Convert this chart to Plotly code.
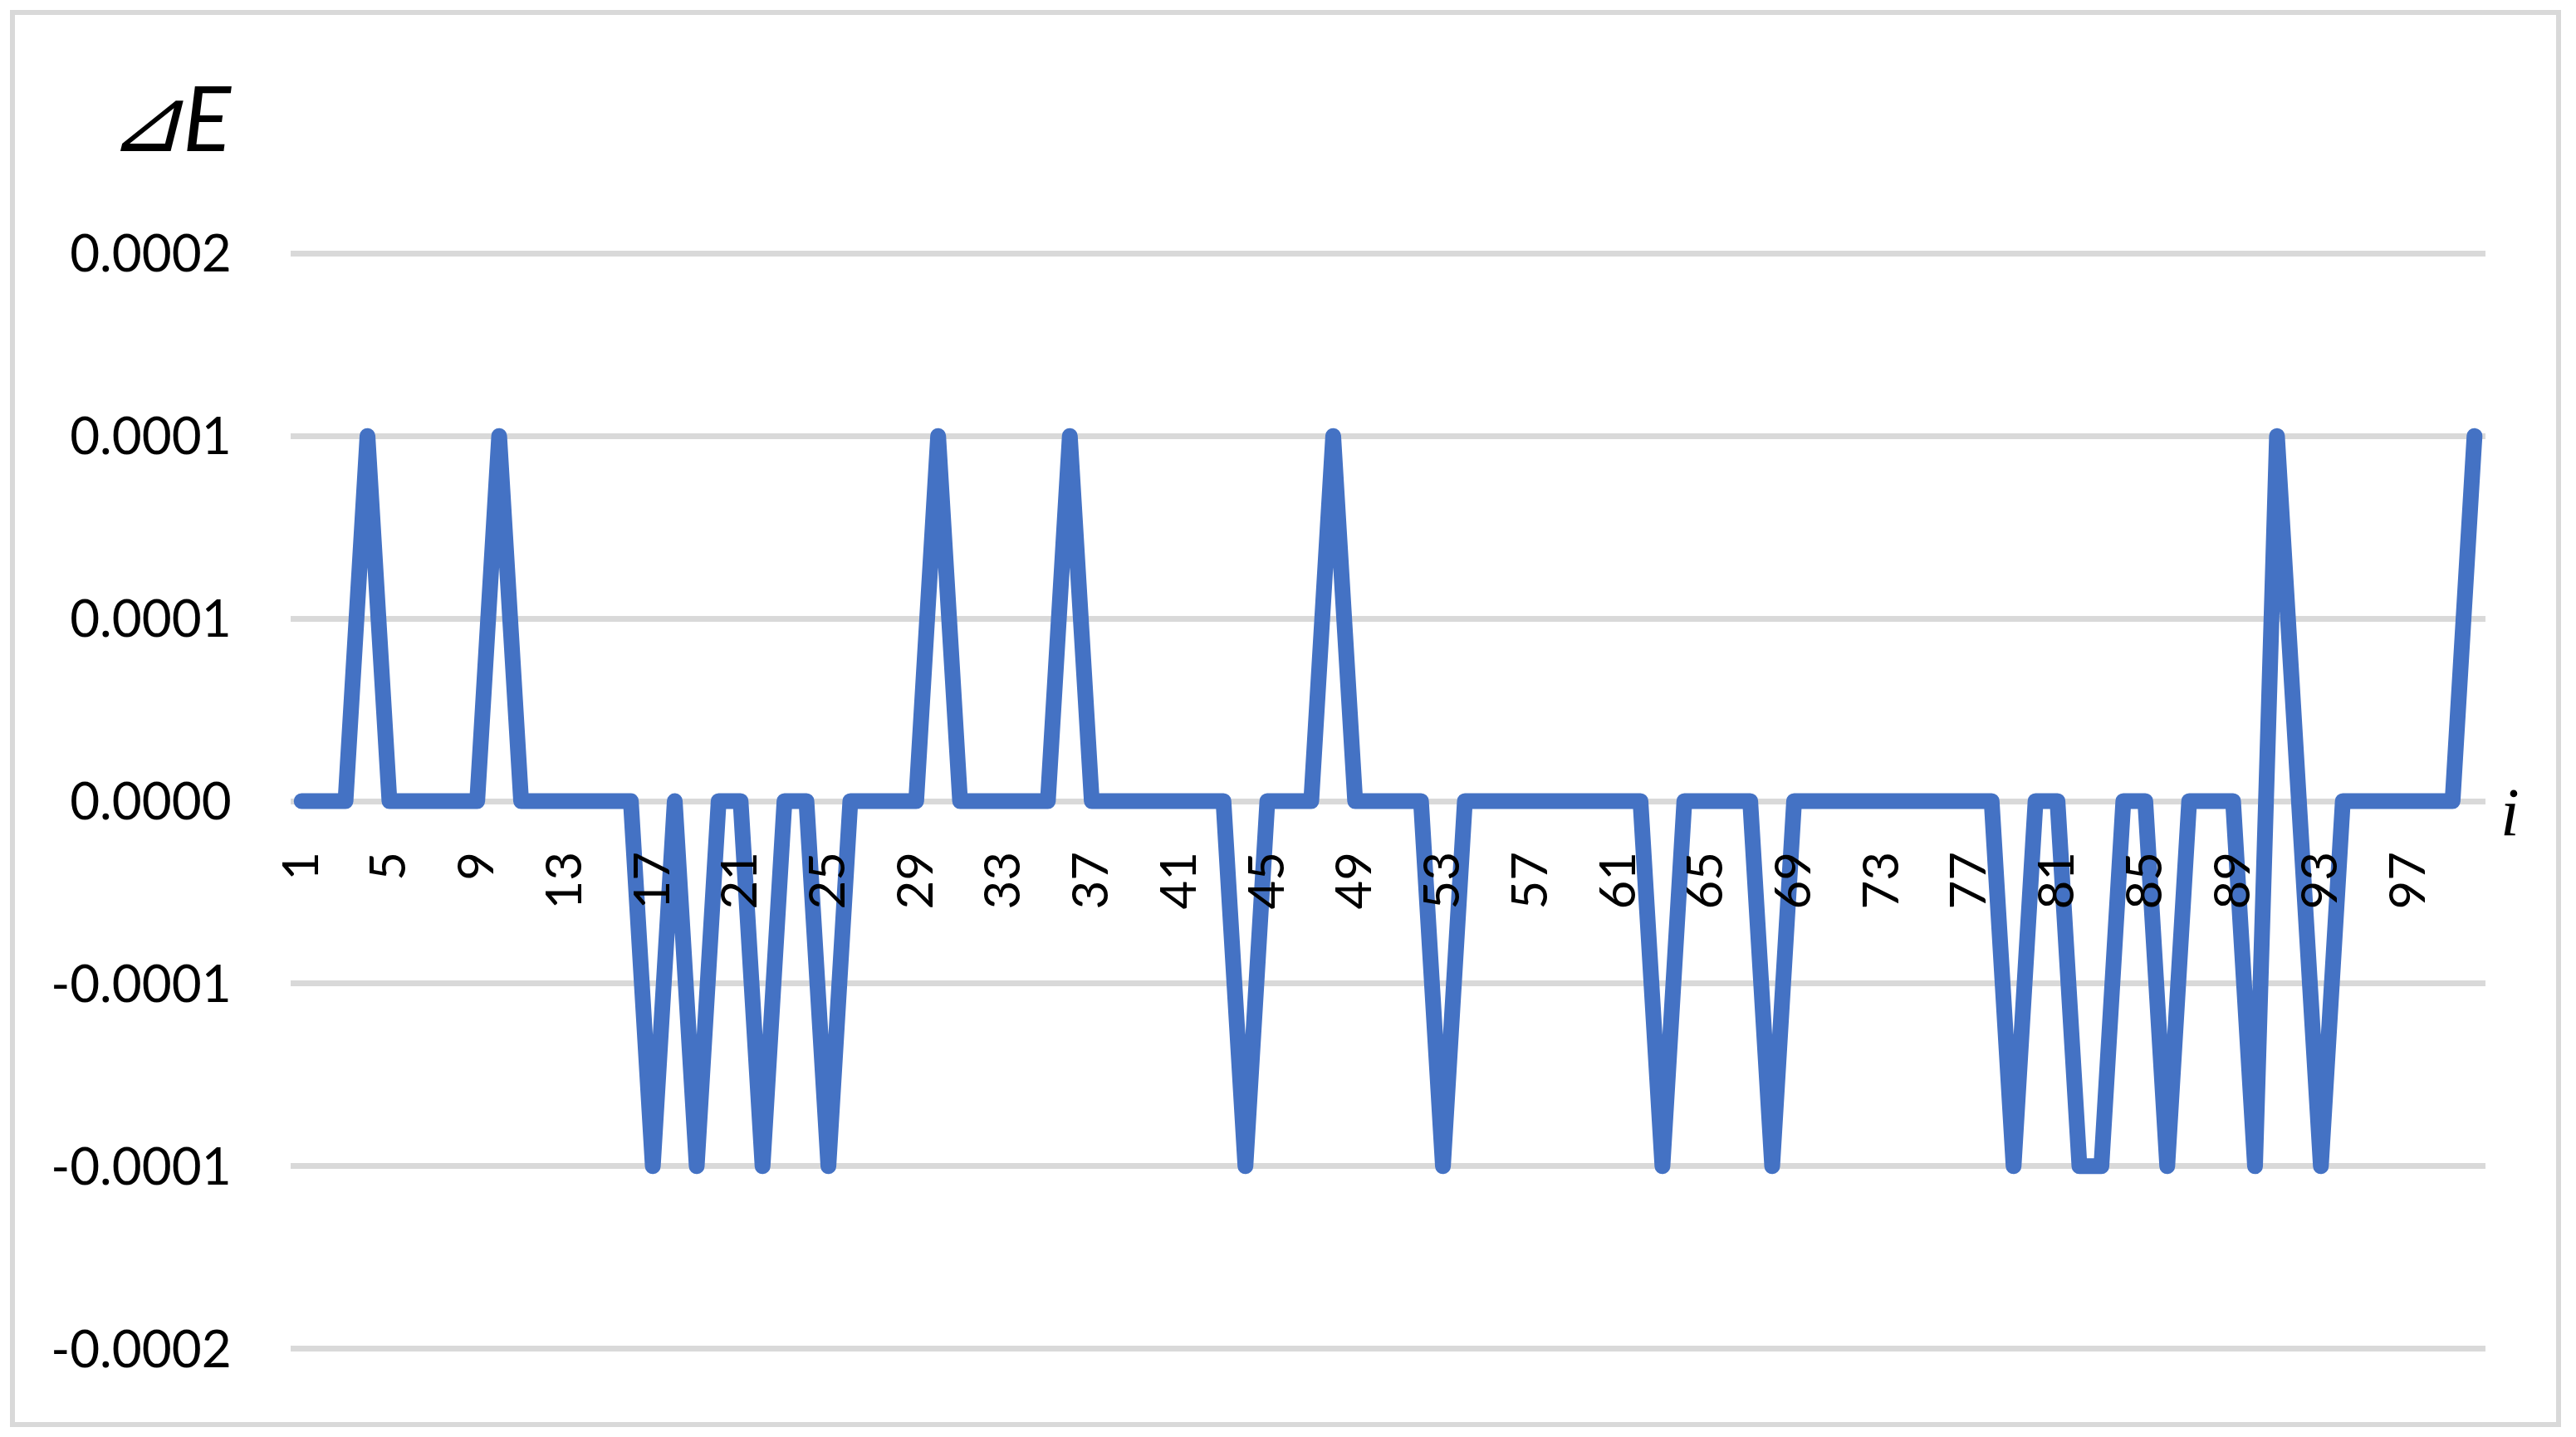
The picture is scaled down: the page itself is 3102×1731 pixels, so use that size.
import plotly.graph_objects as go

# Data
i_values = list(range(1, 101))
peak_idx = [4, 10, 30, 36, 48, 91, 100]
trough_idx = [17, 19, 22, 25, 44, 53, 63, 68, 79, 82, 83, 86, 90, 93]
delta_e = [0.0001 if i in peak_idx else (-0.0001 if i in trough_idx else 0.0) for i in i_values]

x_tick_vals = list(range(1, 101, 4))
x_tick_text = [str(v) for v in x_tick_vals]
y_tick_vals = [-0.00015, -0.0001, -0.00005, 0.0, 0.00005, 0.0001, 0.00015]
y_tick_text = ["-0.0002", "-0.0001", "-0.0001", "0.0000", "0.0001", "0.0001", "0.0002"]

W, H = 3102, 1731
L, R, T, B = 350, 109, 303, 104
pw, ph = W - L - R, H - T - B
EPS = 0.0000005

def px(x):
    return (x - L) / pw

def py(y):
    return (H - B - y) / ph

fig = go.Figure()
fig.add_trace(go.Scatter(
    x=i_values, y=delta_e, mode="lines",
    line=dict(color="#4472C4", width=19),
    showlegend=False, hoverinfo="skip",
))

grid = "#D9D9D9"
fig.update_layout(
    width=W, height=H,
    margin=dict(l=L, r=R, t=T, b=B),
    paper_bgcolor="white", plot_bgcolor="white",
    font=dict(family="Lato", color="black"),
    xaxis=dict(
        range=[0.5, 100.5], tickvals=x_tick_vals, ticktext=x_tick_text,
        tickangle=-90, showgrid=False, zeroline=False, showline=False,
        anchor="free", position=0.5,
        ticks="outside", ticklen=36, tickcolor="rgba(0,0,0,0)",
        tickfont=dict(family="Lato", size=60, color="black"),
    ),
    yaxis=dict(
        range=[-0.00015 - EPS, 0.00015 + EPS], tickvals=y_tick_vals, ticktext=y_tick_text,
        showgrid=True, gridcolor=grid, gridwidth=7,
        zeroline=True, zerolinecolor=grid, zerolinewidth=7,
        showline=False,
        ticks="outside", ticklen=58, tickcolor="rgba(0,0,0,0)",
        tickfont=dict(family="Lato", size=62, color="black"),
    ),
    shapes=[dict(
        type="rect", xref="paper", yref="paper",
        x0=px(15), x1=px(3081), y0=py(1716), y1=py(15),
        line=dict(color=grid, width=6), fillcolor="rgba(0,0,0,0)", layer="below",
    )],
    annotations=[
        dict(text="<i>⊿E</i>", xref="paper", yref="paper",
             x=px(204), y=py(140), showarrow=False,
             xanchor="center", yanchor="middle",
             font=dict(family="Lato", size=108, color="black")),
        dict(text="<i>i</i>", xref="paper", yref="paper",
             x=px(3022), y=py(978), showarrow=False,
             xanchor="center", yanchor="middle",
             font=dict(family="Liberation Serif", size=82, color="black")),
    ],
)

post = """
document.body.style.margin='0';
document.body.style.overflow='hidden';
var gd = document.getElementById('{plot_id}');
function fixJoins(){
  gd.querySelectorAll('.scatterlayer path.js-line').forEach(function(p){
    p.style.strokeLinejoin='round'; p.style.strokeLinecap='round';
  });
}
fixJoins();
gd.on && gd.on('plotly_afterplot', fixJoins);
"""
fig.write_html("out.html", post_script=post, config={"displayModeBar": False})
